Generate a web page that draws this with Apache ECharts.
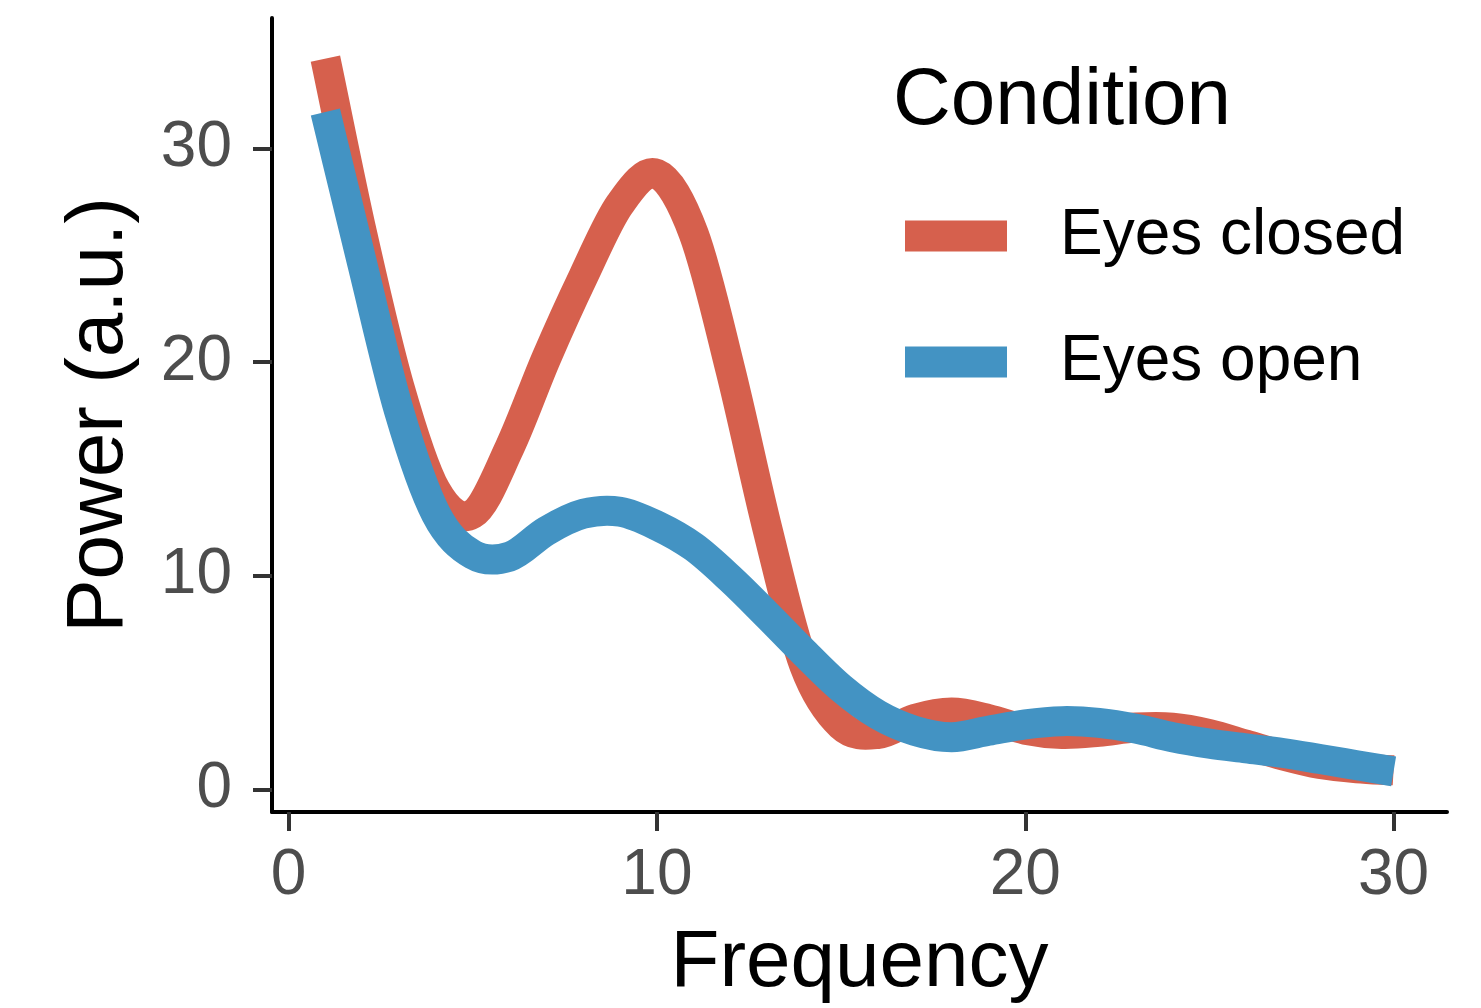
<!DOCTYPE html>
<html>
<head>
<meta charset="utf-8">
<script src="https://cdn.jsdelivr.net/npm/echarts@6/dist/echarts.min.js"></script>
<style>
  html, body { margin: 0; padding: 0; background: #ffffff; }
  #chart { width: 1481px; height: 1008px; }
</style>
</head>
<body>
<div id="chart"></div>
<script>
const frequency = [1, 2, 3, 4, 5, 6, 7, 8, 9, 10, 11, 12, 13, 14, 15, 16, 17, 18, 19, 20, 21, 22, 23, 24, 25, 26, 27, 28, 29, 30];
const eyesClosed = [34.2, 26.0, 18.9, 14.0, 12.9, 16.0, 20.2, 24.0, 27.4, 28.8, 26.0, 19.6, 12.2, 5.8, 3.0, 2.6, 3.3, 3.6, 3.3, 2.8, 2.6, 2.7, 2.9, 2.9, 2.6, 2.1, 1.6, 1.2, 1.0, 0.9];
const eyesOpen = [31.7, 24.6, 17.7, 12.9, 11.0, 10.9, 12.1, 12.9, 13.0, 12.35, 11.35, 9.85, 8.15, 6.4, 4.75, 3.5, 2.75, 2.45, 2.75, 3.05, 3.2, 3.12, 2.85, 2.45, 2.15, 1.93, 1.71, 1.43, 1.14, 0.85];
const seriesNames = ['Eyes closed', 'Eyes open'];
const seriesColors = ['#D6604D', '#4393C3'];
const xTicks = [0, 10, 20, 30];
const yTicks = [0, 10, 20, 30];
const xTitle = 'Frequency';
const yTitle = 'Power (a.u.)';
const legendTitle = 'Condition';

const FONT = "'Liberation Sans', Arial, Helvetica, sans-serif";
const chart = echarts.init(document.getElementById('chart'), null, { renderer: 'canvas' });

const pairs = (ys) => frequency.map((f, i) => [f, ys[i]]);

// Smooth curve through the data points (positions come from the axes via api.coord)
function smoothPath(pts) {
  const n = pts.length;
  const m = [];
  for (let i = 0; i < n; i++) {
    let a, b;
    if (i === 0) { a = pts[0]; b = pts[1]; }
    else if (i === n - 1) { a = pts[n - 2]; b = pts[n - 1]; }
    else { a = pts[i - 1]; b = pts[i + 1]; }
    m.push((b[1] - a[1]) / (b[0] - a[0]));
  }
  let d = 'M' + pts[0][0] + ' ' + pts[0][1];
  for (let i = 0; i < n - 1; i++) {
    const h = pts[i + 1][0] - pts[i][0];
    const c1x = pts[i][0] + h / 3, c1y = pts[i][1] + m[i] * h / 3;
    const c2x = pts[i + 1][0] - h / 3, c2y = pts[i + 1][1] - m[i + 1] * h / 3;
    d += ' C' + c1x + ' ' + c1y + ' ' + c2x + ' ' + c2y + ' ' + pts[i + 1][0] + ' ' + pts[i + 1][1];
  }
  return d;
}

function makeSeries(name, values, color, z) {
  return {
    name: name,
    type: 'custom',
    coordinateSystem: 'cartesian2d',
    data: pairs(values),
    encode: { x: 0, y: 1 },
    itemStyle: { color: color },
    z: z,
    renderItem: function (params, api) {
      if (params.dataIndex !== 0) return null;
      const pts = frequency.map((f, i) => api.coord([f, values[i]]));
      return {
        type: 'path',
        shape: { pathData: smoothPath(pts) },
        style: { fill: 'none', stroke: color, lineWidth: 30, lineCap: 'butt', lineJoin: 'round' }
      };
    }
  };
}

const option = {
  backgroundColor: '#ffffff',
  animation: false,
  title: {
    text: legendTitle,
    left: 893,
    top: 62,
    padding: 0,
    textStyle: { fontFamily: FONT, fontSize: 80, fontWeight: 'normal', color: '#000000', lineHeight: 80 }
  },
  legend: {
    orient: 'vertical',
    left: 905,
    top: 198,
    padding: 0,
    itemWidth: 102,
    itemHeight: 31,
    itemGap: 50,
    icon: 'rect',
    data: seriesNames,
    textStyle: { fontFamily: FONT, fontSize: 64, color: '#000000', lineHeight: 64, padding: [12, 0, 0, 48] }
  },
  grid: {
    left: 272, right: 34, top: 18, bottom: 196,
    containLabel: false,
    outerBoundsMode: 'none'
  },
  xAxis: {
    type: 'value',
    min: -0.45,
    max: 31.45,
    name: xTitle,
    nameLocation: 'middle',
    nameGap: 112,
    nameTextStyle: { fontFamily: FONT, fontSize: 80, color: '#000000', lineHeight: 80 },
    axisLine: { show: true, onZero: false, lineStyle: { color: '#000000', width: 4 } },
    axisTick: { show: true, length: 19, customValues: xTicks, lineStyle: { color: '#333333', width: 4 } },
    axisLabel: { show: true, customValues: xTicks, margin: 32, fontFamily: FONT, fontSize: 64, color: '#4D4D4D', lineHeight: 64 },
    splitLine: { show: false }
  },
  yAxis: {
    type: 'value',
    min: -1.05,
    max: 36.1,
    name: yTitle,
    nameLocation: 'middle',
    nameGap: 132,
    nameTextStyle: { fontFamily: FONT, fontSize: 80, color: '#000000', lineHeight: 80 },
    axisLine: { show: true, onZero: false, lineStyle: { color: '#000000', width: 4 } },
    axisTick: { show: true, length: 19, customValues: yTicks, lineStyle: { color: '#333333', width: 4 } },
    axisLabel: { show: true, customValues: yTicks, margin: 40, fontFamily: FONT, fontSize: 64, color: '#4D4D4D', lineHeight: 64 },
    splitLine: { show: false }
  },
  series: [
    makeSeries(seriesNames[0], eyesClosed, seriesColors[0], 2),
    makeSeries(seriesNames[1], eyesOpen, seriesColors[1], 3)
  ]
};
chart.setOption(option);
</script>
</body>
</html>
